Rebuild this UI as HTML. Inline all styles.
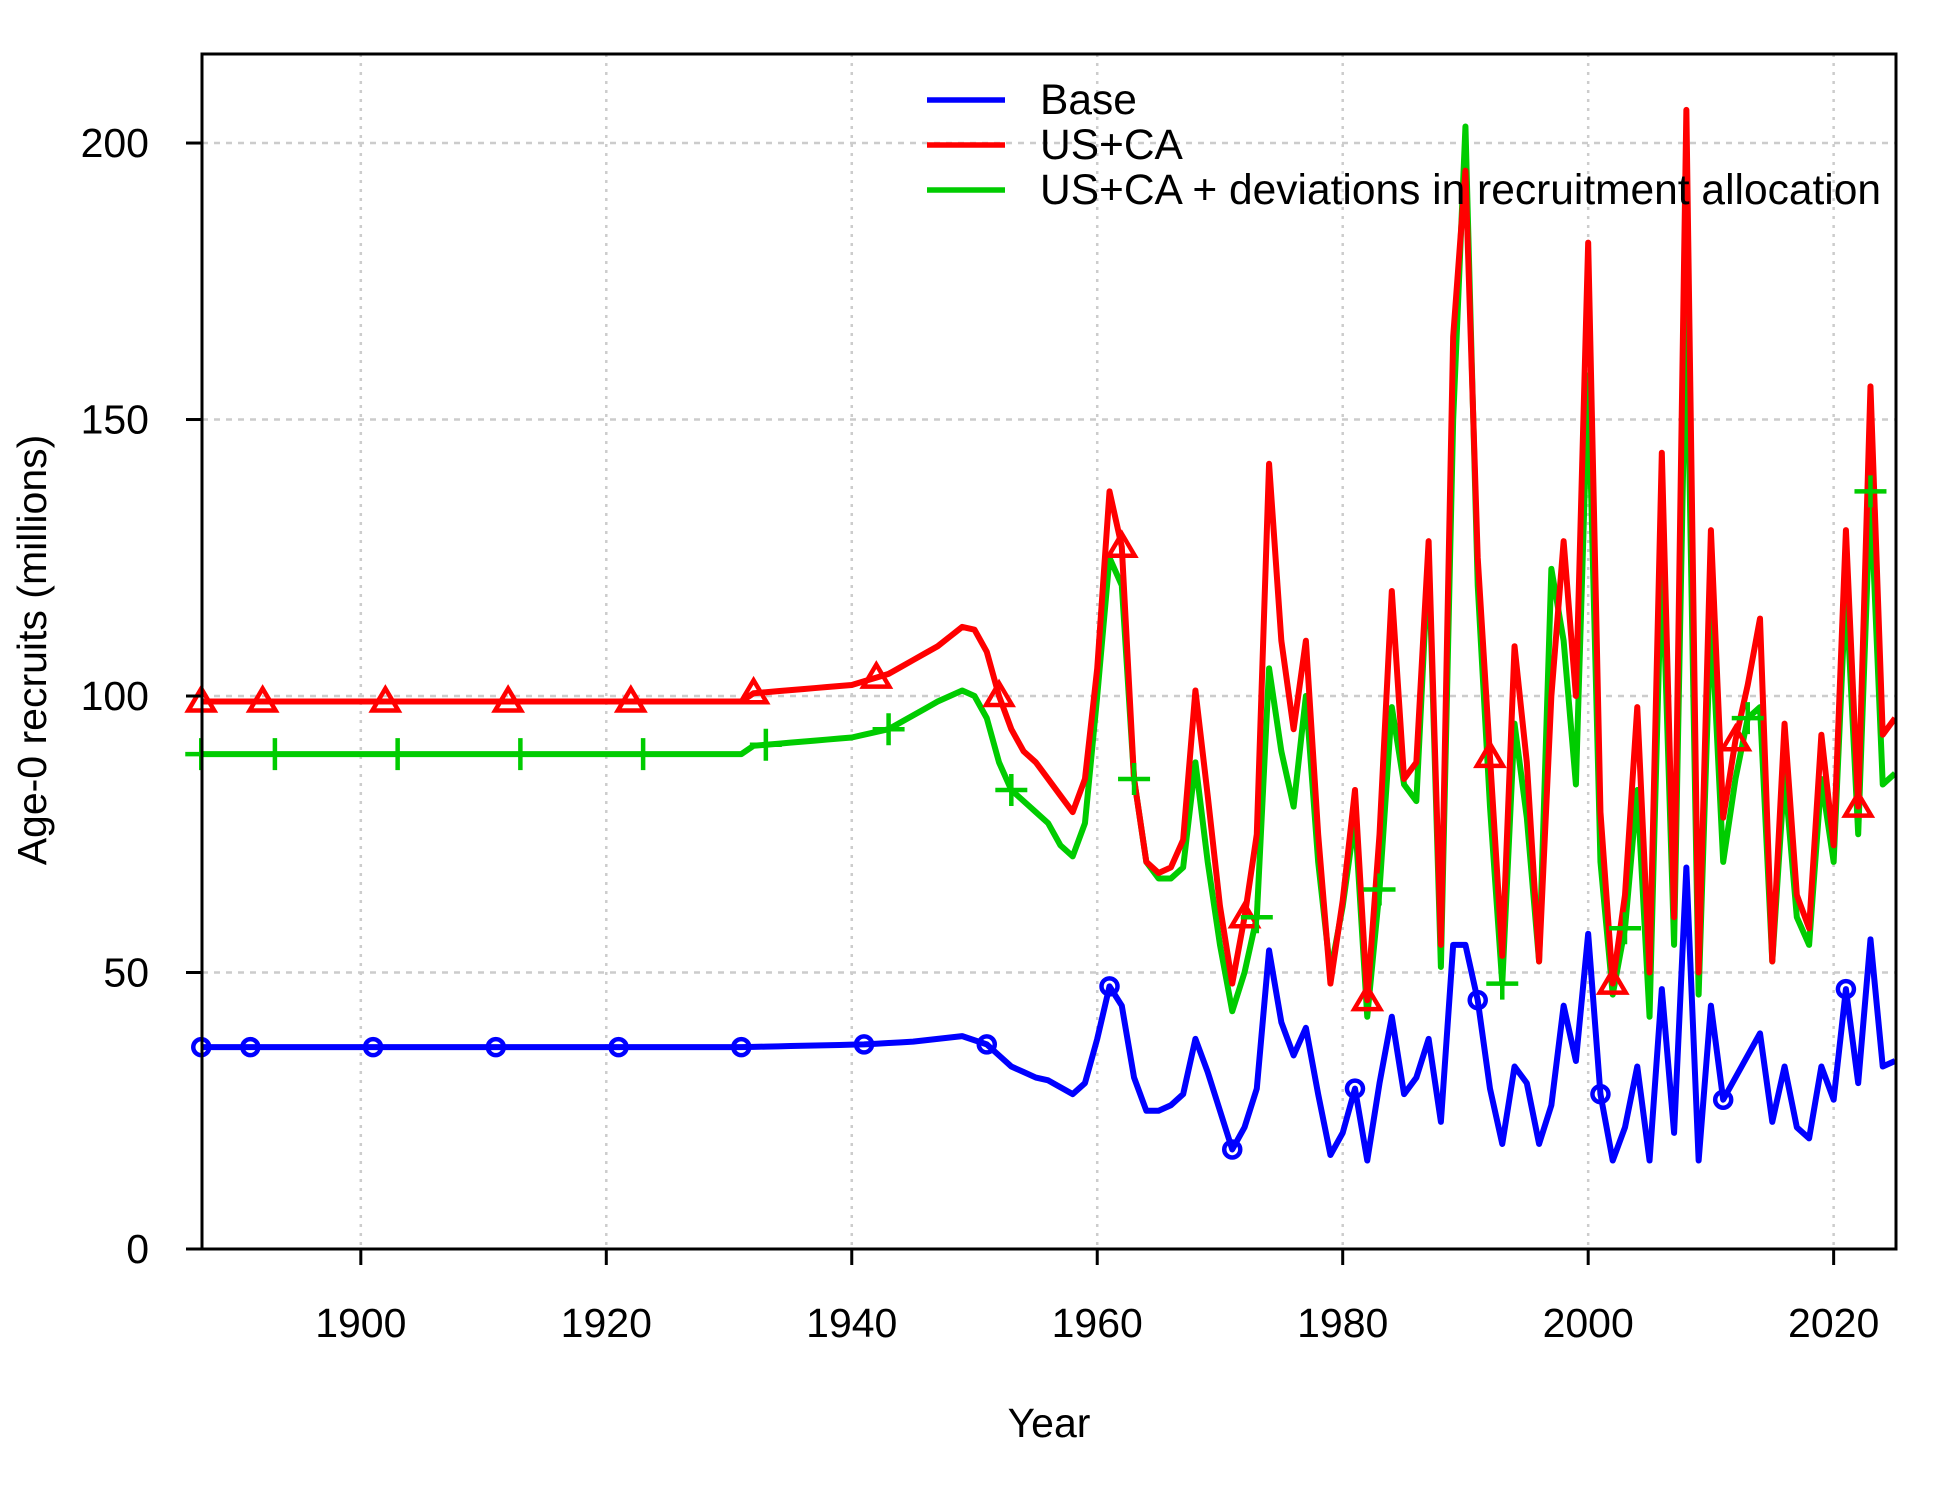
<!DOCTYPE html>
<html><head><meta charset="utf-8"><style>
body{margin:0;background:#fff}
svg text{font-family:"Liberation Sans",Arial,sans-serif;fill:#000}
</style></head><body>
<svg id="chart" width="1950" height="1500" xmlns="http://www.w3.org/2000/svg">
<g id="grid"></g>
<g id="series"></g>
<g id="axes"></g>
<g id="legend"></g>
</svg>
<script>
const years=[];for(let y=1887;y<=2025;y++)years.push(y);
const baseEarly=[[1887,36.5],[1931,36.5],[1941,37],[1945,37.5],[1949,38.5],[1951,37],[1953,33],[1955,31],[1956,30.5],[1958,28]];
const baseLate=[30,38,47.5,44,31,25,25,26,28,38,32,25,18,22,29,54,41,35,40,28,17,21,29,16,30,42,28,31,38,23,55,55,45,29,19,33,30,19,26,44,34,57,28,16,22,33,16,47,21,69,16,44,27,31,35,39,23,33,22,20,33,27,47,30,56,33,34];
const usEarly=[[1887,99],[1931,99],[1932,100.5],[1940,102],[1943,104],[1947,109],[1949,112.5],[1950,112],[1951,108],[1952,100],[1953,94],[1954,90],[1955,88],[1956,85],[1957,82],[1958,79]];
const usLate=[85,105,137,127,85,70,68,69,74,101,82,62,48,60,75,142,110,94,110,75,48,63,83,45,75,119,85,88,128,55,165,195,125,89,53,109,88,52,100,128,100,182,79,48,64,98,50,144,60,206,50,130,78,92,102,114,52,95,64,58,93,73,130,80,156,93,96];
const devEarly=[[1887,89.5],[1931,89.5],[1932,91],[1940,92.5],[1943,94],[1947,99],[1949,101],[1950,100],[1951,96],[1952,88],[1953,83],[1954,81],[1955,79],[1956,77],[1957,73],[1958,71]];
const devLate=[77,100,125,120,85,70,67,67,69,88,70,55,43,50,60,105,90,80,100,70,50,62,78,42,65,98,84,81,126,51,150,203,120,80,48,95,78,52,123,110,84,158,70,46,58,83,42,126,55,172,46,115,70,85,96,98,52,86,60,55,85,70,120,75,137,84,86];
const yTicks=[0,50,100,150,200];
const xTicks=[1900,1920,1940,1960,1980,2000,2020];
const legendLabels=["Base","US+CA","US+CA + deviations in recruitment allocation"];

const L=202,R=1896,T=54,B=1249,X0=1887.06,X1=2025.08,Y1=216.1;
const sx=v=>L+(v-X0)/(X1-X0)*(R-L);
const sy=v=>B-v/Y1*(B-T);
const NS="http://www.w3.org/2000/svg";
function mk(tag,attrs,parent){const e=document.createElementNS(NS,tag);for(const k in attrs)e.setAttribute(k,attrs[k]);parent.appendChild(e);return e;}
function build(early,late){
  const m=new Map();
  for(let i=0;i<early.length-1;i++){const[a,va]=early[i],[b,vb]=early[i+1];for(let y=a;y<=b;y++)m.set(y,va+(vb-va)*(y-a)/(b-a));}
  late.forEach((v,i)=>m.set(1959+i,v));
  return years.map(y=>m.get(y));
}
const base=build(baseEarly,baseLate),us=build(usEarly,usLate),dev=build(devEarly,devLate);

const grid=document.getElementById('grid');
xTicks.forEach(t=>{const l=mk('line',{x1:sx(t),x2:sx(t),y1:T,y2:B,stroke:'#ccc','stroke-width':2.5,'stroke-dasharray':'3,6'},grid);
});
yTicks.forEach(t=>{const l=mk('line',{x1:L,x2:R,y1:sy(t),y2:sy(t),stroke:'#ccc','stroke-width':2.5,'stroke-dasharray':'6,6'},grid);
});

const sg=document.getElementById('series');
function line(vals,col,name){
  const p=mk('polyline',{points:vals.map((v,i)=>sx(years[i])+','+sy(v)).join(' '),fill:'none',stroke:col,'stroke-width':6,'stroke-linejoin':'round'},sg);
  
}
line(dev,'#00cc00','line-deviations');
line(us,'#ff0000','line-us-ca');
line(base,'#0000ff','line-base');
years.forEach((y,i)=>{
  if(y===1887||(y-1891)%10===0){const c=mk('circle',{cx:sx(y),cy:sy(base[i]),r:8,fill:'none',stroke:'#0000ff','stroke-width':4.5},sg);
    }
  if(y===1887||(y-1892)%10===0){const x=sx(y),yy=sy(us[i]);const p=mk('polygon',{points:`${x-13},${yy+9} ${x+13},${yy+9} ${x},${yy-13}`,fill:'none',stroke:'#ff0000','stroke-width':4.5},sg);
    }
  if(y===1887||(y-1893)%10===0){const x=sx(y),yy=sy(dev[i]);const p=mk('path',{d:`M${x-16},${yy}H${x+16}M${x},${yy-16}V${yy+16}`,stroke:'#00cc00','stroke-width':4.5},sg);
    }
});

const ax=document.getElementById('axes');
const box=mk('rect',{x:L,y:T,width:R-L,height:B-T,fill:'none',stroke:'#000','stroke-width':3},ax);

yTicks.forEach(t=>{mk('line',{x1:L-16,x2:L,y1:sy(t),y2:sy(t),stroke:'#000','stroke-width':3},ax);
  const tx=mk('text',{x:149,y:sy(t)+14,'font-size':41,'text-anchor':'end'},ax);tx.textContent=t;
  });
xTicks.forEach(t=>{mk('line',{x1:sx(t),x2:sx(t),y1:B,y2:B+16,stroke:'#000','stroke-width':3},ax);
  const tx=mk('text',{x:sx(t),y:1337,'font-size':41,'text-anchor':'middle'},ax);tx.textContent=t;
  });
const xt=mk('text',{x:1049,y:1437,'font-size':41,'text-anchor':'middle'},ax);xt.textContent='Year';

const yt=mk('text',{x:0,y:0,'font-size':41,'text-anchor':'middle',transform:'translate(46,650) rotate(-90)'},ax);yt.textContent='Age-0 recruits (millions)';


const lg=document.getElementById('legend');
const cols=['#0000ff','#ff0000','#00cc00'];
legendLabels.forEach((s,i)=>{const y=100+i*45;
  const g=mk('g',{},lg);
  mk('line',{x1:927,x2:1005,y1:y,y2:y,stroke:cols[i],'stroke-width':5.5},g);
  const t=mk('text',{x:1040,y:y+14,'font-size':42.5},g);t.textContent=s;});
</script>
</body></html>
